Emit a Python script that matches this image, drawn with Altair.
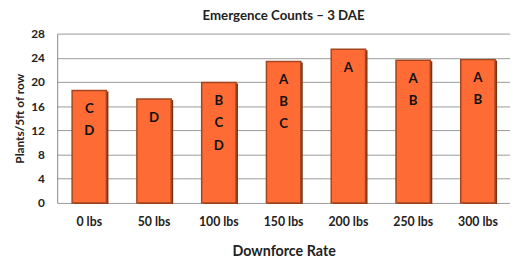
import altair as alt
import pandas as pd

categories = ["0 lbs", "50 lbs", "100 lbs", "150 lbs", "200 lbs", "250 lbs", "300 lbs"]
values = [18.6, 17.2, 19.9, 23.4, 25.4, 23.6, 23.7]
letters = [["C", "D"], ["D"], ["B", "C", "D"], ["A", "B", "C"], ["A"], ["A", "B"], ["A", "B"]]
y_ticks = [0, 4, 8, 12, 16, 20, 24, 28]

FONT = "Lato"

bars_df = pd.DataFrame({"rate": categories, "count": values})
rows = []
for c, v, ls in zip(categories, values, letters):
    for i, l in enumerate(ls):
        rows.append({"rate": c, "count": v, "letter": l, "idx": i})
text_df = pd.DataFrame(rows)

xenc = alt.X("rate:N", sort=categories,
             scale=alt.Scale(paddingInner=0.47, paddingOuter=0.23),
             axis=alt.Axis(title="Downforce Rate", labelAngle=0, labelFont=FONT,
                           labelFontWeight="bold", labelFontSize=12.5, labelColor="#222",
                           labelPadding=13, ticks=False, domain=False,
                           titleFont=FONT, titleFontSize=14.5, titleFontWeight="bold",
                           titleColor="#222", titlePadding=17))
yenc = alt.Y("count:Q", scale=alt.Scale(domain=[0, 28], nice=False),
             axis=alt.Axis(title="Plants/5ft of row", values=y_ticks, labelOverlap=False,
                           labelFont=FONT, labelFontWeight="bold", labelFontSize=12,
                           labelColor="#222", labelPadding=13, ticks=False,
                           domainColor="#888", gridColor="#999", gridWidth=1,
                           titleFont=FONT, titleFontSize=12, titleFontWeight="bold",
                           titleColor="#222", titlePadding=4))

shadow = alt.Chart(bars_df).mark_bar(color="#7a3416", xOffset=2, yOffset=1).encode(
    x=xenc, y=yenc)
bars = alt.Chart(bars_df).mark_bar(color="#FF6B35", stroke="#A4451E", strokeWidth=1.5).encode(
    x=xenc, y=yenc)

layers = [shadow, bars]
for i, dy in enumerate([19, 41.5, 64]):
    layers.append(
        alt.Chart(text_df).transform_filter(alt.datum.idx == i).mark_text(
            font=FONT, fontWeight="bold", fontSize=13.5, color="#111", dy=dy, baseline="middle"
        ).encode(x=xenc, y=yenc, text="letter:N")
    )

chart = alt.layer(*layers).properties(
    width=460, height=172,
    title=alt.TitleParams("Emergence Counts \u2013 3 DAE", font=FONT, fontSize=13.5,
                          fontWeight="bold", color="#222", frame="group", offset=5),
    autosize=alt.AutoSizeParams(type="none"),
    padding={"left": 50, "top": 24, "right": 0, "bottom": 58},
).configure_view(stroke=None)

chart.save("out.html", embed_options={"renderer": "svg", "actions": False})
